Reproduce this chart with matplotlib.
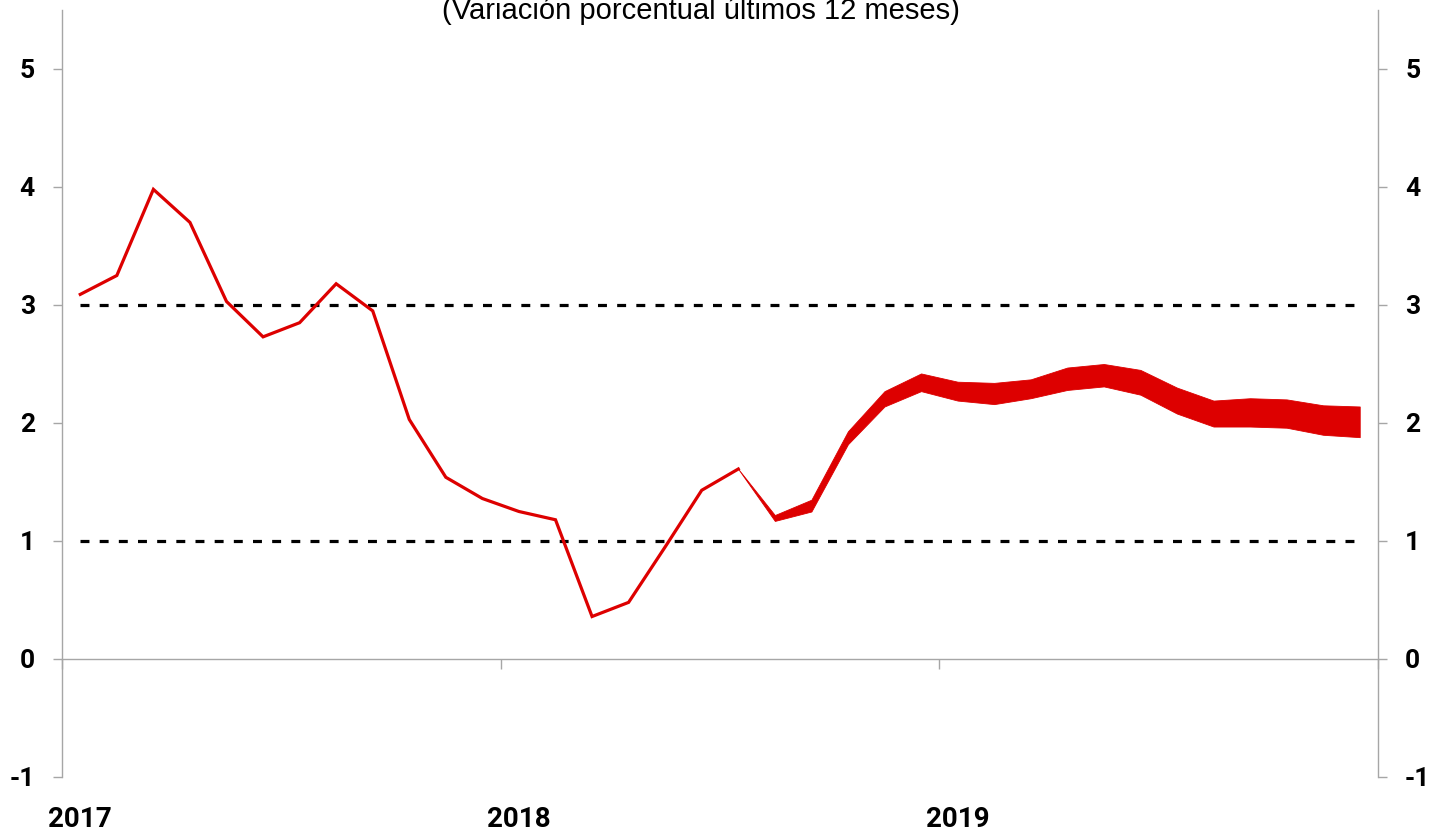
import matplotlib
matplotlib.use("Agg")
import matplotlib.pyplot as plt
import numpy as np

plt.rcParams["axes.unicode_minus"] = False

# ---- data ----
months = [f"{y}-{m:02d}" for y in (2017, 2018, 2019) for m in range(1, 13)]
year_labels = ["2017", "2018", "2019"]
year_label_months = ["2017-01", "2018-01", "2019-01"]

observed = [3.09, 3.25, 3.98, 3.70, 3.03, 2.73, 2.85, 3.18, 2.95, 2.03,
            1.54, 1.36, 1.25, 1.18, 0.36, 0.48, 0.95, 1.43, 1.61]  # 2017-01 .. 2018-07

band_start = "2018-07"
band_upper = [1.61, 1.22, 1.35, 1.93, 2.27, 2.42, 2.35, 2.34, 2.37, 2.47,
              2.50, 2.45, 2.30, 2.19, 2.21, 2.20, 2.15, 2.14]
band_lower = [1.61, 1.17, 1.25, 1.82, 2.14, 2.27, 2.19, 2.16, 2.21, 2.28,
              2.31, 2.24, 2.08, 1.97, 1.97, 1.96, 1.90, 1.88]

target_range = [1, 3]
y_ticks = [-1, 0, 1, 2, 3, 4, 5]
title = "(Variación porcentual últimos 12 meses)"

# ---- styling ----
RED = "#DD0000"
GRAY = "#A6A6A6"
TICK_FONT = ["Roboto", "DejaVu Sans"]

W, H = 1435, 832
fig = plt.figure(figsize=(W / 100, H / 100), dpi=100)
ax = fig.add_axes([62 / W, (H - 777) / H, (1378 - 62) / W, (777 - 10) / H])

x_all = np.arange(len(months))
x_obs = x_all[:len(observed)]
i0 = months.index(band_start)
x_band = x_all[i0:i0 + len(band_upper)]

for t in target_range:
    ax.plot([x_all[0], x_all[-1]], [t, t], color="black", lw=2.3,
            dashes=(2.8, 3.2), zorder=2)

ax.plot(x_obs, observed, color=RED, lw=2.3, zorder=3, solid_joinstyle="miter")
ax.fill_between(x_band, band_lower, band_upper, color=RED, lw=0.6,
                edgecolor=RED, zorder=3)

ax.set_xlim(-0.5, len(months) - 0.5)
ax.set_ylim(-1, 5.5)

# spines
for s in ("top", "bottom"):
    ax.spines[s].set_visible(False)
for s in ("left", "right"):
    ax.spines[s].set_color(GRAY)
    ax.spines[s].set_linewidth(1.0)
    ax.spines[s].set_bounds(-1, 5.5)

# zero axis line with year-boundary ticks
sec = ax.secondary_xaxis(0, transform=ax.transData)
sec.spines["bottom"].set_color(GRAY)
sec.spines["bottom"].set_linewidth(1.0)
sec.set_xticks([-0.5, 11.5, 23.5, 35.5])
sec.tick_params(axis="x", direction="out", length=7.5, width=1.0, color=GRAY,
                labelbottom=False)

# year labels
ax.set_xticks([months.index(m) for m in year_label_months])
ax.set_xticklabels(year_labels, fontdict=dict(family=TICK_FONT, weight="bold", size=20))
ax.tick_params(axis="x", length=0, pad=21)

# y axis both sides
ax.set_yticks(y_ticks)
ax.tick_params(axis="y", which="both", direction="out", length=6.5, width=1.0,
               color=GRAY, left=True, right=True, labelleft=True,
               labelright=True, pad=13)
for t in ax.yaxis.get_major_ticks():
    for lab in (t.label1, t.label2):
        lab.set_fontfamily(TICK_FONT)
        lab.set_fontweight("bold")
        lab.set_fontsize(19)

fig.text(701 / W, 1 - 19 / H, title, ha="center", va="baseline",
         fontsize=21, family="Liberation Sans", color="black")

fig.savefig("out.png", dpi=100, facecolor="white")
